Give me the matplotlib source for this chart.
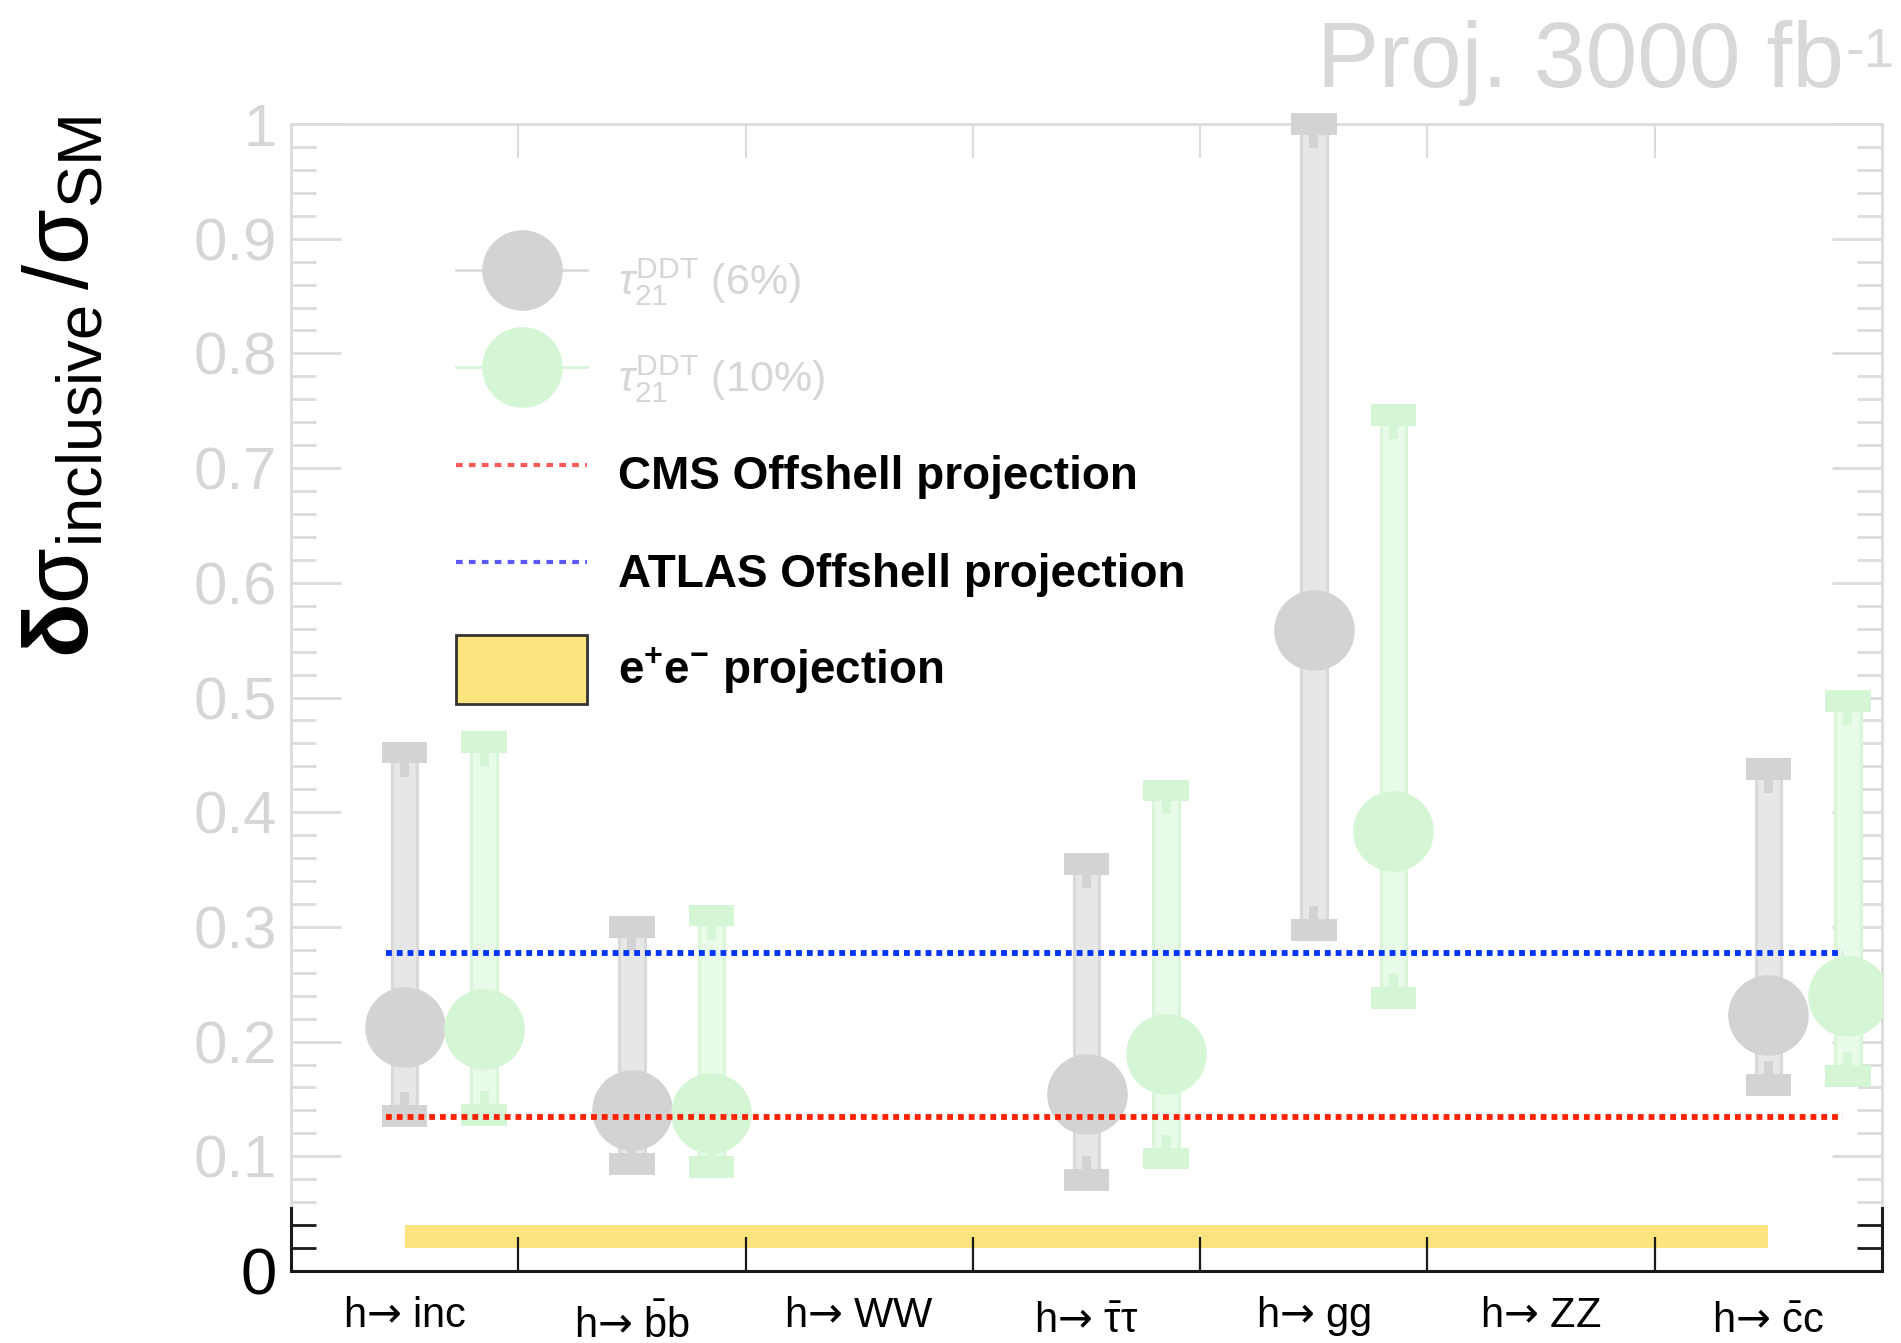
import numpy as np
import matplotlib
matplotlib.use("Agg")
import matplotlib.pyplot as plt
from matplotlib.lines import Line2D
from matplotlib.patches import Patch

plt.rcParams["font.family"] = ["Liberation Sans", "DejaVu Sans"]
plt.rcParams["mathtext.fontset"] = "custom"
plt.rcParams["mathtext.rm"] = "Liberation Sans"
plt.rcParams["mathtext.it"] = "Liberation Sans:italic"
plt.rcParams["mathtext.bf"] = "Liberation Sans:bold"
plt.rcParams["mathtext.sf"] = "DejaVu Sans"   # only used for the arrow

# decay channels, one bin each
channels = [
    r"h$\mathsf{→}$ inc",
    r"h$\mathsf{→}$ $\bar{\mathrm{b}}$b",
    r"h$\mathsf{→}$ WW",
    r"h$\mathsf{→}$ $\bar{\mathrm{\tau}}\mathrm{\tau}$",
    r"h$\mathsf{→}$ gg",
    r"h$\mathsf{→}$ ZZ",
    r"h$\mathsf{→}$ $\bar{\mathrm{c}}$c",
]
label_drop = [0, 8, 0, 3.6, 0, 0, 3.6]  # points, for the barred labels

# tau21 DDT at 6% mistag
idx_6 = [0, 1, 3, 4, 6]
val_6 = [0.213, 0.140, 0.154, 0.559, 0.223]
hi_6 = [0.452, 0.300, 0.355, 1.000, 0.438]
lo_6 = [0.135, 0.093, 0.079, 0.297, 0.162]

# tau21 DDT at 10% mistag
idx_10 = [0, 1, 3, 4, 6]
val_10 = [0.211, 0.138, 0.189, 0.384, 0.240]
hi_10 = [0.461, 0.310, 0.419, 0.746, 0.497]
lo_10 = [0.136, 0.091, 0.098, 0.238, 0.170]

cms_offshell = 0.134
atlas_offshell = 0.277
ee_band = (0.02, 0.04)

yticks = [0.0, 0.1, 0.2, 0.3, 0.4, 0.5, 0.6, 0.7, 0.8, 0.9, 1.0]
ytick_labels = ["0", "0.1", "0.2", "0.3", "0.4", "0.5", "0.6", "0.7", "0.8", "0.9", "1"]

GREY_TXT = "#d6d6d6"
GREY_AX = "#dcdcdc"
DARK = "#1a1a1a"
SHIFT_10 = 0.35      # second working point drawn to the right of the bin centre
BODY_W = 0.112
CAP_W = 0.2
CAP_H = 0.019
NOTCH_W = 0.04
NOTCH_H = 0.021
FADE_BELOW = 0.055   # axis stays black below this


def draw_points(ax, xs, val, hi, lo, solid, fill, edge):
    xs = np.asarray(xs, float)
    hi = np.asarray(hi)
    lo = np.asarray(lo)
    ax.bar(xs, hi - lo, bottom=lo, width=BODY_W, color=fill, edgecolor=edge,
           lw=2.2, zorder=2)
    ax.bar(xs, NOTCH_H, bottom=hi - NOTCH_H, width=NOTCH_W, color=solid, lw=0, zorder=2.5)
    ax.bar(xs, NOTCH_H, bottom=lo, width=NOTCH_W, color=solid, lw=0, zorder=2.5)
    ax.bar(xs, CAP_H, bottom=hi - CAP_H / 2, width=CAP_W, color=solid, lw=0,
           zorder=3, clip_on=False)
    ax.bar(xs, CAP_H, bottom=lo - CAP_H / 2, width=CAP_W, color=solid, lw=0,
           zorder=3, clip_on=False)
    ax.plot(xs, val, "o", ms=57, color=solid, mec=solid, zorder=4)


def tick_colour(tick, bottom_col, top_col):
    tick.tick1line.set_markeredgecolor(bottom_col)
    tick.tick2line.set_markeredgecolor(top_col)


fig = plt.figure(figsize=(19.01, 13.43), dpi=100)
ax = fig.add_axes([291 / 1901, 72 / 1343, 1591 / 1901, 1147 / 1343])

centres = np.arange(len(channels)) + 0.5

# e+e- projection band from first to last channel
ax.fill_between([centres[0], centres[-1]], ee_band[0], ee_band[1],
                color="#fde47f", lw=0, zorder=1)

draw_points(ax, centres[idx_6], val_6, hi_6, lo_6,
            solid="#d3d3d3", fill="#e7e7e7", edge="#d9d9d9")
draw_points(ax, centres[idx_10] + SHIFT_10, val_10, hi_10, lo_10,
            solid="#d4f6d4", fill="#e8fae8", edge="#daf6da")

dots = (0, (1, 0.85))
ax.hlines(cms_offshell, 0.42, 6.83, colors="#ff2200", linestyles=dots, lw=4.2, zorder=5)
ax.hlines(atlas_offshell, 0.42, 6.83, colors="#0033ff", linestyles=dots, lw=4.2, zorder=5)

ax.set_xlim(0, 7)
ax.set_ylim(0, 1)

# x axis: ticks on bin edges, labels placed under the bin centres
ax.set_xticks(np.arange(1, len(channels)))
ax.tick_params(axis="x", which="major", direction="in", length=24.5, width=1.6,
               top=True, bottom=True, labelbottom=False)
for t in ax.xaxis.get_major_ticks():
    tick_colour(t, DARK, GREY_AX)
for c, lab, drop in zip(centres, channels, label_drop):
    ax.annotate(lab, xy=(c, 0), xycoords=("data", "axes fraction"),
                xytext=(0, -40 - drop), textcoords="offset points",
                ha="center", va="baseline", fontsize=30, color="black")

# y axis, ticks on both sides
yminor = [round(v, 2) for v in np.arange(0.02, 1.0, 0.02) if round(v * 100) % 10 != 0]
ax.set_yticks(yticks, ytick_labels)
ax.set_yticks(yminor, minor=True)
ax.tick_params(axis="y", which="both", direction="in", left=True, right=True, width=2)
ax.tick_params(axis="y", which="major", length=36, pad=10, labelsize=43)
ax.tick_params(axis="y", which="minor", length=18)
for t, v in zip(ax.yaxis.get_major_ticks(), yticks):
    col = DARK if v < FADE_BELOW else GREY_AX
    tick_colour(t, col, col)
    t.label1.set_color("black" if v < FADE_BELOW else GREY_TXT)
    if v < FADE_BELOW:
        t.label1.set_fontsize(47)
for t, v in zip(ax.yaxis.get_minor_ticks(), yminor):
    col = DARK if v < FADE_BELOW else GREY_AX
    tick_colour(t, col, col)

for side in ["top", "left", "right"]:
    ax.spines[side].set_color(GREY_AX)
    ax.spines[side].set_linewidth(2)
ax.spines["bottom"].set_color(DARK)
ax.spines["bottom"].set_linewidth(2.2)
ytrans = ax.get_yaxis_transform()
ax.plot([0, 0], [0, FADE_BELOW], color=DARK, lw=2.2, transform=ytrans,
        clip_on=False, zorder=6)
ax.plot([1, 1], [0, FADE_BELOW], color=DARK, lw=2.2, transform=ytrans,
        clip_on=False, zorder=6)

# legend
handles = [
    Line2D([], [], color="#dcdcdc", lw=2, marker="o", ms=57, mfc="#d3d3d3", mec="#d3d3d3"),
    Line2D([], [], color="#d8f5d8", lw=2, marker="o", ms=57, mfc="#d4f6d4", mec="#d4f6d4"),
    Line2D([], [], color="#ff5a5a", lw=3, ls=(0, (1.6, 1.5))),
    Line2D([], [], color="#5a5aff", lw=3, ls=(0, (1.6, 1.5))),
    Patch(facecolor="#fde47f", edgecolor="#333333", lw=2),
]
labels = [
    r"$\tau_{21}^{\mathrm{DDT}}$ (6%)",
    r"$\tau_{21}^{\mathrm{DDT}}$ (10%)",
    "CMS Offshell projection",
    "ATLAS Offshell projection",
    r"e$^{\mathbf{+}}$e$^{\mathbf{-}}$ projection",
]
leg = ax.legend(handles, labels, loc="upper left", bbox_to_anchor=(0.1037, 0.894),
                borderaxespad=0, borderpad=0, frameon=False,
                prop={"weight": "bold", "size": 33},
                handlelength=2.86, handleheight=1.91, handletextpad=0.67,
                labelspacing=0.64)
for txt in leg.get_texts()[:2]:
    txt.set_color(GREY_TXT)
    txt.set_fontweight("normal")
    txt.set_fontsize(31)

fig.text(0.034, 1 - 116 / 1343,
         r"$\mathbf{\delta}\mathrm{\sigma}_{\mathrm{inclusive}}\,/\mathrm{\sigma}_{\mathrm{SM}}$",
         rotation=90, ha="center", va="top", fontsize=65, color="black")
proj = fig.text(1317 / 1901, 1 - 87 / 1343, "Proj. 3000 fb",
                fontsize=67, color="#d8d8d8", ha="left", va="baseline")
ax.annotate("-1", xy=(1, 1), xycoords=proj, xytext=(1, -5),
            textcoords="offset points", ha="left", va="top",
            fontsize=40, color="#d8d8d8")

fig.savefig("out.png", dpi=100)
